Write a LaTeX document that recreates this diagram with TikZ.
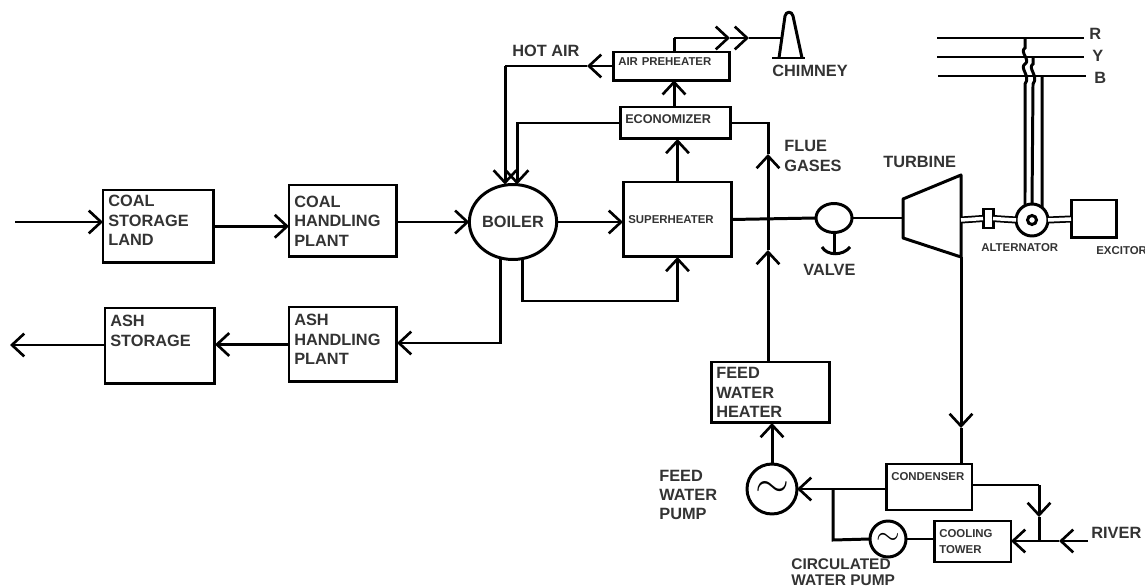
\documentclass[tikz,border=0pt]{standalone}
\usepackage{fontspec}
\setmainfont{Liberation Sans}
\usetikzlibrary{arrows.meta,shapes.geometric}
\definecolor{inkgray}{gray}{0.2}
\tikzset{
    flow/.style={line width=1.7pt, -{Straight Barb[length=7pt,width=13pt,line width=1.5pt]}},
    pipe/.style={line width=1.7pt},
    shaft/.style={double, line width=1pt, double distance=2pt},
    bigtext/.style={font=\bfseries\fontsize{9.3}{11}\selectfont, text=inkgray, align=left, inner sep=0pt},
    smalltext/.style={font=\bfseries\fontsize{6.5}{9}\selectfont, text=inkgray, align=left, inner sep=0pt},
    unitbox/.style={draw, line width=1.7pt, anchor=north west, inner sep=3pt, outer sep=0pt, text=inkgray},
    bigbox/.style 2 args={unitbox, font=\bfseries\fontsize{9.3}{11}\selectfont, align=left, minimum width=#1, minimum height=#2, text width=#1-6pt},
    smallbox/.style 2 args={unitbox, font=\bfseries\fontsize{6.5}{9}\selectfont, align=left, minimum width=#1, minimum height=#2, text width=#1-6pt},
    pumpcircle/.style={draw, circle, line width=1.7pt, inner sep=0pt, outer sep=0pt, fill=white}
}
\begin{document}
\begin{tikzpicture}[x=0.02cm, y=-0.02cm]
    \useasboundingbox (0,0) rectangle (1145,587);

    % fuel and ash side
    \node[bigbox={2.22cm}{1.44cm}] (coalstorage) at (103,190) {COAL\\STORAGE\\LAND\\[-4.2pt]\mbox{}};
    \node[bigbox={2.16cm}{1.44cm}] (coalplant) at (289,185) {COAL\\HANDLING\\PLANT};
    \node[draw, ellipse, line width=1.7pt, minimum width=1.72cm, minimum height=1.5cm, inner sep=0pt, outer sep=0pt, font=\bfseries\fontsize{9.3}{11}\selectfont, text=inkgray] (boiler) at (513,222) {BOILER};
    \node[bigbox={2.16cm}{1.5cm}] (ashplant) at (289,307) {ASH\\HANDLING\\PLANT\\[-5.3pt]\mbox{}};
    \node[bigbox={2.2cm}{1.52cm}] (ashstorage) at (105,308) {ASH\\STORAGE\\[6.2pt]\mbox{}};

    % flue gas path
    \node[smallbox={2.18cm}{1.5cm}] (superheater) at (623,182) {SUPERHEATER};
    \node[smallbox={2.22cm}{0.64cm}, font=\bfseries\fontsize{7.2}{9}\selectfont] (economizer) at (620,107) {\raisebox{4.6pt}{ECONOMIZER}};
    \node[smallbox={2.34cm}{0.56cm}] (airheater) at (613,52) {\raisebox{5.6pt}{AIR PREHEATER}};
    \node[bigbox={2.38cm}{1.22cm}] (feedheater) at (711,362) {FEED\\WATER\\HEATER};

    % water circuit
    \node[pumpcircle, minimum size=1cm, font=\fontsize{25}{25}\selectfont] (feedpump) at (772,489) {$\sim$};
    \node[smallbox={1.72cm}{0.92cm}] (condenser) at (886,464) {\raisebox{12.4pt}{CONDENSER}};
    \node[pumpcircle, minimum size=0.72cm, font=\fontsize{16}{16}\selectfont] (circpump) at (888,539) {$\sim$};
    \node[smallbox={1.54cm}{0.82cm}] (coolingtower) at (934,521) {COOLING\\TOWER};

    % steam side
    \node[draw, ellipse, line width=1.7pt, minimum width=0.72cm, minimum height=0.58cm, inner sep=0pt, outer sep=0pt] (valve) at (834,218) {};
    \node[draw, circle, line width=1.7pt, minimum size=0.64cm, inner sep=0pt, outer sep=0pt] (alternator) at (1032,220) {};
    \node[draw, circle, line width=1.7pt, minimum size=0.18cm, inner sep=0pt] (rotor) at (alternator) {};
    \node[draw, line width=1.7pt, minimum width=0.9cm, minimum height=0.76cm, outer sep=0pt, anchor=north west] (excitor) at (1071,200) {};
    \node[draw, line width=1.7pt, minimum width=0.2cm, minimum height=0.38cm, outer sep=0pt, inner sep=0pt, fill=white, anchor=north west] (coupling) at (983,209) {};

    \draw[line width=1.7pt, line join=round] (903,199) -- (961,175) -- (961,257) -- (903,238) -- cycle;
    \coordinate (turbinein) at (903,218);
    \coordinate (turbineout) at (961,220);
    \coordinate (turbinebase) at (961,257);

    % labels
    \node[bigtext, anchor=west] (hotair) at (512,51) {HOT AIR};
    \node[bigtext, anchor=west] (chimneylabel) at (772,71) {CHIMNEY};
    \node[bigtext, anchor=west] (fluelabel) at (784,156) {FLUE\\GASES};
    \node[bigtext, anchor=west] (turbinelabel) at (883,162) {TURBINE};
    \node[bigtext, anchor=west] (valvelabel) at (803,270) {VALVE};
    \node[smalltext, anchor=west] (alternatorlabel) at (981,248) {ALTERNATOR};
    \node[smalltext, anchor=west] (excitorlabel) at (1096,251) {EXCITOR};
    \node[bigtext, anchor=west] (pumplabel) at (659,495) {FEED\\WATER\\PUMP};
    \node[bigtext, anchor=south west, font=\bfseries\fontsize{8.8}{9.2}\selectfont] (circlabel) at (791,586) {CIRCULATED\\WATER PUMP};
    \node[bigtext, anchor=west] (riverlabel) at (1091,533) {RIVER};
    \node[bigtext, anchor=west] (rlabel) at (1089,34) {R};
    \node[bigtext, anchor=west] (ylabel) at (1092,56) {Y};
    \node[bigtext, anchor=west] (blabel) at (1094,78) {B};

    % coal and ash lines
    \coordinate (coalin) at (15,222);
    \coordinate (ashout) at (10,345);
    \draw[flow] (coalin) -- (coalin -| coalstorage.west);
    \draw[flow] (coalstorage.east) -- (coalplant.west |- coalstorage.east);
    \draw[flow] (coalplant.east |- boiler.west) -- (boiler.west);
    \draw[flow] (boiler.east) -- (superheater.west |- boiler.east);
    \coordinate (ashturn) at (500,343);
    \coordinate (reheatturn) at (522,301);
    \draw[flow] (ashturn |- boiler.south) -- (ashturn) -- (ashturn -| ashplant.east);
    \draw[flow] (reheatturn |- boiler.south) -- (reheatturn) -| (superheater.south);
    \draw[flow] (ashplant.west) -- (ashplant.west -| ashstorage.east);
    \draw[flow] (ashstorage.west |- ashout) -- (ashout);

    % flue gas lines
    \draw[flow] (superheater.north) -- (superheater.north |- economizer.south);
    \coordinate (ecotop) at (674,107);
    \draw[flow] (ecotop) -- (ecotop |- airheater.south);
    \coordinate (ecoturn) at (517,122);
    \coordinate (hotturn) at (505,66);
    \draw[flow] (economizer.west) -- (economizer.west -| ecoturn) -- (ecoturn |- boiler.north);
    \coordinate (hotarrow) at (587,66);
    \draw[flow] (airheater.west |- hotturn) -- (hotarrow);
    \draw[pipe] (hotarrow) -- (hotturn);
    \draw[flow] (hotturn) -- (hotturn |- boiler.north);
    \coordinate (stackturn) at (674,38);
    \coordinate (stackarrowa) at (730,38);
    \coordinate (stackarrowb) at (749,38);
    \coordinate (chimneyin) at (781,38);
    \draw[pipe] (stackturn |- airheater.north) -- (stackturn);
    \draw[flow] (stackturn) -- (stackarrowa);
    \draw[flow] (stackarrowa) -- (stackarrowb);
    \draw[pipe] (stackarrowb) -- (chimneyin);
    \draw[pipe] (772,58) -- (805,58);
    \draw[pipe, line join=round] (779,58) -- (785,16) .. controls (786,11) and (792,11) .. (793,16) -- (802,58);

    % feed water line
    \coordinate (flueturn) at (768,123);
    \coordinate (fluelow) at (768,250);
    \coordinate (fluehigh) at (768,154);
    \draw[flow] (fluelow |- feedheater.north) -- (fluelow);
    \draw[flow] (fluelow) -- (fluehigh);
    \draw[pipe] (fluehigh) -- (flueturn) -- (flueturn -| economizer.east);
    \draw[flow] (feedpump.north) -- (feedpump.north |- feedheater.south);

    % steam line
    \draw[pipe] (superheater.east) -- (valve.west);
    \draw[pipe] (valve.east) -- (turbinein);
    \draw[pipe] (valve.south) -- (834,254);
    \draw[pipe] (822,247) .. controls (827,256) and (843,256) .. (850,247);
    \draw[shaft] (turbineout) -- (coupling.west);
    \draw[shaft] (coupling.east) -- (alternator.west);
    \draw[shaft] (alternator.east) -- (excitor.west);

    % condenser and cooling water
    \coordinate (drainarrow) at (961,428);
    \draw[flow] (turbinebase) -- (drainarrow);
    \draw[pipe] (drainarrow) -- (drainarrow |- condenser.north);
    \draw[flow] (condenser.west |- feedpump.east) -- (feedpump.east);
    \coordinate (bypassturn) at (833,540);
    \draw[pipe] (bypassturn |- feedpump.east) -- (bypassturn) -- (circpump.west);
    \draw[pipe] (circpump.east) -- (coolingtower.west |- circpump.east);
    \coordinate (rivernode) at (1039,541);
    \coordinate (riverstart) at (1088,541);
    \coordinate (riverarrow) at (1059,541);
    \draw[flow] (riverstart) -- (riverarrow);
    \draw[pipe] (riverarrow) -- (rivernode);
    \draw[flow] (rivernode) -- (rivernode -| coolingtower.east);
    \coordinate (returnturn) at (1039,485);
    \coordinate (returnarrow) at (1039,517);
    \draw[pipe] (returnturn -| condenser.east) -- (returnturn);
    \draw[flow] (returnturn) -- (returnarrow);
    \draw[pipe] (returnarrow) -- (rivernode);

    % bus bars and tie lines
    \draw[pipe] (937,38) -- (1084,38);
    \draw[pipe] (937,57) -- (1084,57);
    \draw[pipe] (938,76) -- (1086,76);
    \draw[pipe] (1025,38) -- (1025,48) .. controls (1019,52) and (1031,60) .. (1025,64)
        .. controls (1019,68) and (1031,76) .. (1025,84) -- (alternator.116);
    \draw[pipe] (1033,57) -- (1033,64) .. controls (1027,68) and (1039,76) .. (1033,84) -- (alternator.north);
    \draw[pipe] (1042,76) -- (alternator.51);
\end{tikzpicture}
\end{document}
